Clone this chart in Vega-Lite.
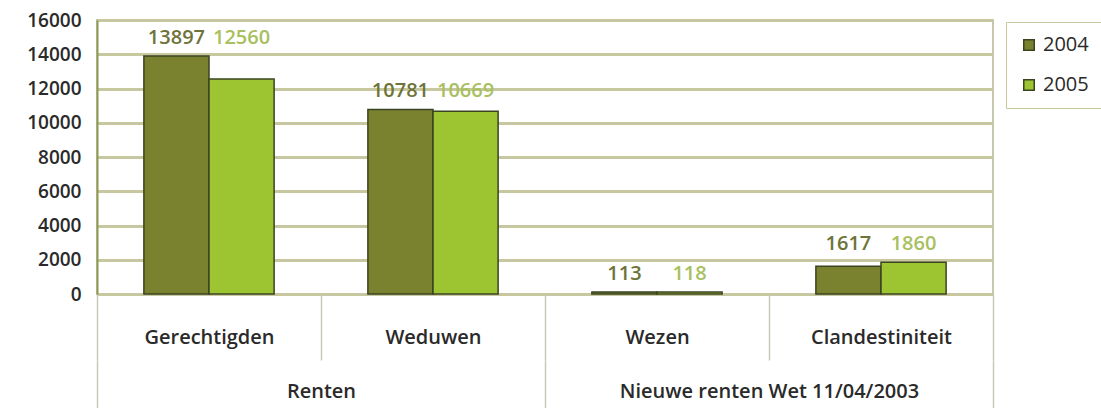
{
  "$schema": "https://vega.github.io/schema/vega-lite/v6.json",
  "width": 896,
  "height": 274,
  "autosize": {"type": "none"},
  "padding": {"left": 97, "top": 20, "right": 108, "bottom": 114},
  "background": "white",
  "config": {
    "font": "Open Sans",
    "view": {"stroke": "#c8c8b0", "strokeWidth": 2},
    "axisY": {
      "values": [0, 2000, 4000, 6000, 8000, 10000, 12000, 14000, 16000],
      "format": "d", "labelOverlap": false,
      "ticks": false, "domain": true, "domainColor": "#8c9a50", "domainWidth": 2,
      "grid": true, "gridColor": "#c8c8a0", "gridWidth": 3,
      "labelFontSize": 19, "labelColor": "#2a2a2a", "labelPadding": 16, "labelFontWeight": 600
    }
  },
  "data": {
    "values": [
      {"category": "Gerechtigden", "group": "Renten", "year": "2004", "value": 13897},
      {"category": "Gerechtigden", "group": "Renten", "year": "2005", "value": 12560},
      {"category": "Weduwen", "group": "Renten", "year": "2004", "value": 10781},
      {"category": "Weduwen", "group": "Renten", "year": "2005", "value": 10669},
      {"category": "Wezen", "group": "Nieuwe renten Wet 11/04/2003", "year": "2004", "value": 113},
      {"category": "Wezen", "group": "Nieuwe renten Wet 11/04/2003", "year": "2005", "value": 118},
      {"category": "Clandestiniteit", "group": "Nieuwe renten Wet 11/04/2003", "year": "2004", "value": 1617},
      {"category": "Clandestiniteit", "group": "Nieuwe renten Wet 11/04/2003", "year": "2005", "value": 1860}
    ]
  },
  "transform": [
    {"joinaggregate": [{"op": "max", "field": "value", "as": "gmax"}], "groupby": ["category"]}
  ],
  "resolve": {"scale": {"x": "independent"}},
  "layer": [
    {
      "mark": {"type": "bar", "stroke": "#3b4420", "strokeWidth": 1.5},
      "encoding": {
        "x": {
          "field": "category", "type": "nominal",
          "scale": {"domain": ["Gerechtigden", "Weduwen", "Wezen", "Clandestiniteit"], "paddingInner": 0, "paddingOuter": 0},
          "axis": {
            "title": null, "orient": "bottom", "domain": false, "labelAngle": 0,
            "tickBand": "extent", "tickSize": 66, "tickColor": "#c8c8b8", "tickWidth": 1.5,
            "labelFontSize": 20, "labelFontWeight": 600, "labelColor": "#2a2a2a",
            "labelPadding": -33, "labelBaseline": "top"
          }
        },
        "xOffset": {
          "field": "year", "type": "nominal",
          "scale": {"paddingInner": 0, "paddingOuter": 0.72}
        },
        "y": {
          "field": "value", "type": "quantitative",
          "scale": {"domain": [0, 16000], "nice": false},
          "axis": {"title": null}
        },
        "fill": {
          "field": "year", "type": "nominal",
          "scale": {"domain": ["2004", "2005"], "range": ["#7a8230", "#9dc431"]},
          "legend": {
            "title": null, "orient": "none", "legendX": 909, "legendY": 2,
            "symbolType": "square", "symbolSize": 110, "symbolStrokeColor": "#3b4420", "symbolStrokeWidth": 1.5,
            "labelFontSize": 20, "labelColor": "#2a2a2a", "rowPadding": 20,
            "strokeColor": "#c8c8a0", "padding": 13, "fillColor": "white"
          }
        }
      }
    },
    {
      "mark": {"type": "text", "baseline": "bottom", "dy": -8, "fontSize": 20, "fontWeight": 600},
      "encoding": {
        "x": {"field": "category", "type": "nominal", "scale": {"domain": ["Gerechtigden", "Weduwen", "Wezen", "Clandestiniteit"], "paddingInner": 0, "paddingOuter": 0}, "axis": null},
        "xOffset": {"field": "year", "type": "nominal", "scale": {"paddingInner": 0, "paddingOuter": 0.72}},
        "y": {"field": "gmax", "type": "quantitative", "axis": {"title": null}},
        "text": {"field": "value", "type": "quantitative", "format": "d"},
        "color": {"field": "year", "type": "nominal", "scale": {"domain": ["2004", "2005"], "range": ["#6e7339", "#a8c060"]}, "legend": null}
      }
    },
    {
      "mark": {"type": "rule", "opacity": 0},
      "encoding": {
        "x": {
          "field": "group", "type": "nominal",
          "scale": {"domain": ["Renten", "Nieuwe renten Wet 11/04/2003"], "paddingInner": 0, "paddingOuter": 0},
          "axis": {
            "title": null, "orient": "bottom", "offset": 66, "domain": false, "labelAngle": 0,
            "tickBand": "extent", "tickSize": 48, "tickColor": "#c8c8b8", "tickWidth": 1.5,
            "labelFontSize": 20, "labelFontWeight": 600, "labelColor": "#2a2a2a", "labelLimit": 500,
            "labelPadding": -27, "labelBaseline": "top"
          }
        }
      }
    }
  ]
}
